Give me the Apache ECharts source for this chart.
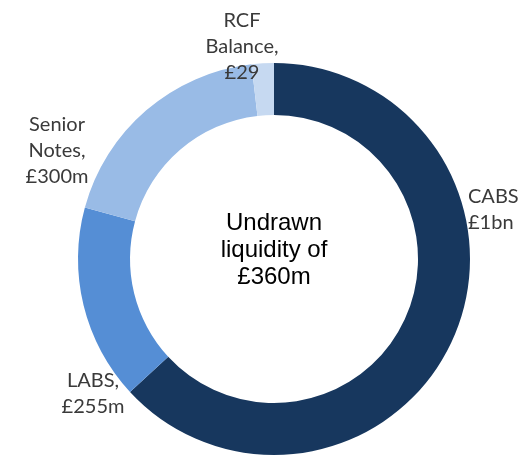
<!DOCTYPE html>
<html>
<head>
<meta charset="utf-8">
<script src="https://cdn.jsdelivr.net/npm/echarts@6/dist/echarts.min.js"></script>
<style>
html,body{margin:0;padding:0;background:#fff;}
#chart{width:525px;height:456px;}
</style>
</head>
<body>
<div id="chart"></div>
<script>
// Data
const categories = ['CABS', 'LABS', 'Senior Notes', 'RCF Balance'];
const values = [1000, 255, 300, 29];           // £m
const labelTexts = ['CABS\n£1bn', 'LABS,\n£255m', 'Senior\nNotes,\n£300m', 'RCF\nBalance,\n£29'];
const centerText = 'Undrawn\nliquidity of\n£360m';

// Styles / layout
const colors = ['#17375E', '#558ED5', '#99BBE6', '#C6D9F1'];
const labelSpots = [
  {x: 468, y: 210, align: 'left'},
  {x: 93, y: 394, align: 'center'},
  {x: 57, y: 151, align: 'center'},
  {x: 242, y: 47, align: 'center'}
];

const chart = echarts.init(document.getElementById('chart'), null, {renderer: 'canvas'});
chart.setOption({
  animation: false,
  series: [{
    type: 'pie',
    center: [274, 259],
    radius: [144, 196],
    startAngle: 90,
    clockwise: true,
    avoidLabelOverlap: false,
    data: categories.map((c, i) => ({
      name: c,
      value: values[i],
      itemStyle: {color: colors[i]},
      label: {formatter: labelTexts[i]}
    })),
    label: {
      show: true,
      position: 'outside',
      fontFamily: 'Lato',
      fontSize: 20,
      lineHeight: 26,
      color: '#3a3a3a'
    },
    labelLine: {show: false},
    labelLayout: function (p) {
      const s = labelSpots[p.dataIndex];
      return {x: s.x, y: s.y, align: s.align, verticalAlign: 'middle'};
    },
    emphasis: {disabled: true}
  }],
  graphic: [{
    type: 'text',
    x: 274,
    y: 250,
    style: {
      text: centerText,
      fontFamily: 'Liberation Sans',
      fontSize: 24,
      lineHeight: 27,
      fill: '#000',
      align: 'center',
      verticalAlign: 'middle'
    }
  }]
});
</script>
</body>
</html>
